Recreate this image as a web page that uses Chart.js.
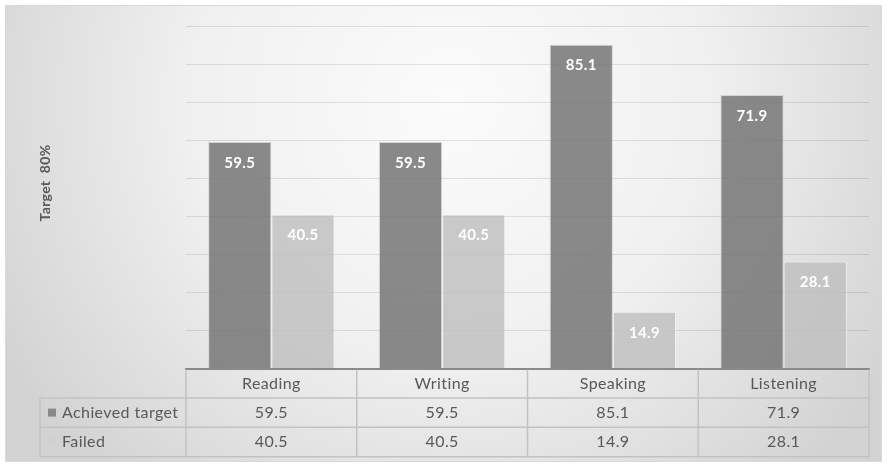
<!DOCTYPE html>
<html>
<head>
<meta charset="utf-8">
<script src="https://cdn.jsdelivr.net/npm/chart.js@4.4.1/dist/chart.umd.min.js"></script>
<style>
  html, body { margin: 0; padding: 0; background: #ffffff; }
  #wrap { width: 887px; height: 467px; position: relative; }
</style>
</head>
<body>
<div id="wrap"><canvas id="c"></canvas></div>
<script>
const categories = ['Reading', 'Writing', 'Speaking', 'Listening'];
const seriesNames = ['Achieved target', 'Failed'];
const achieved = [59.5, 59.5, 85.1, 71.9];
const failed = [40.5, 40.5, 14.9, 28.1];
const yMin = 0;
const yMax = 90;
const yStep = 10;
const axisTitle = 'Target  80%';

const FONT = 'Lato, "Open Sans", "DejaVu Sans", sans-serif';
const TEXT = '#595959';
const barColors = ['rgba(118,118,118,0.85)', 'rgba(190,190,190,0.8)'];
const legendSwatch = ['#8a8a8a', '#d0d0d0'];

const bgPlugin = {
  id: 'bg',
  beforeDraw(chart) {
    const ctx = chart.ctx;
    ctx.save();
    ctx.fillStyle = '#ffffff';
    ctx.fillRect(0, 0, chart.width, chart.height);
    const g = ctx.createRadialGradient(450, 100, 0, 450, 100, 520);
    g.addColorStop(0, '#fbfbfb');
    g.addColorStop(0.5, '#f0f0f0');
    g.addColorStop(1, '#d2d2d2');
    ctx.fillStyle = g;
    ctx.fillRect(5, 5, 877, 457);
    ctx.strokeStyle = '#d9d9d9';
    ctx.lineWidth = 1;
    ctx.strokeRect(5.5, 5.5, 876, 456);
    ctx.restore();
    ctx.letterSpacing = '0.4px';
  }
};

const tablePlugin = {
  id: 'table',
  afterDraw(chart) {
    const ctx = chart.ctx;
    const xs = chart.scales.x;
    const area = chart.chartArea;
    const n = categories.length;
    const colW = (area.right - area.left) / n;
    const top = area.bottom;
    const rowH = 29.4;
    const legendLeft = 40;
    const rows = [achieved, failed];

    ctx.save();
    ctx.letterSpacing = '0.3px';
    // data labels on bars
    ctx.fillStyle = '#ffffff';
    ctx.font = 'bold 15px ' + FONT;
    ctx.textAlign = 'center';
    ctx.textBaseline = 'middle';
    chart.data.datasets.forEach((ds, di) => {
      const meta = chart.getDatasetMeta(di);
      meta.data.forEach((el, i) => {
        ctx.fillText(ds.data[i].toFixed(1), el.x, el.y + 21);
      });
    });

    // table grid
    ctx.strokeStyle = '#c2c2c2';
    ctx.lineWidth = 1.5;
    ctx.beginPath();
    for (let r = 1; r <= 3; r++) {
      const y = top + rowH * r;
      ctx.moveTo(legendLeft, y);
      ctx.lineTo(area.right, y);
    }
    for (let i = 0; i <= n; i++) {
      const xx = i === n ? area.right : xs.getPixelForValue(i) - colW / 2;
      ctx.moveTo(xx, top + 1);
      ctx.lineTo(xx, top + rowH * 3);
    }
    ctx.moveTo(legendLeft, top + rowH);
    ctx.lineTo(legendLeft, top + rowH * 3);
    ctx.stroke();

    // table values
    ctx.letterSpacing = '0.4px';
    ctx.fillStyle = TEXT;
    ctx.font = '16px ' + FONT;
    ctx.textAlign = 'center';
    rows.forEach((vals, r) => {
      const yc = top + rowH * (r + 1) + rowH / 2;
      vals.forEach((v, i) => {
        ctx.fillText(v.toFixed(1), xs.getPixelForValue(i), yc);
      });
    });

    // legend keys
    ctx.textAlign = 'left';
    seriesNames.forEach((name, r) => {
      const yc = top + rowH * (r + 1) + rowH / 2;
      ctx.fillStyle = legendSwatch[r];
      ctx.fillRect(48, yc - 4, 8, 8);
      ctx.fillStyle = TEXT;
      ctx.fillText(name, 62, yc);
    });

    // axis title
    ctx.letterSpacing = '0.3px';
    ctx.translate(45, 183);
    ctx.rotate(-Math.PI / 2);
    ctx.font = 'bold 14px ' + FONT;
    ctx.textAlign = 'center';
    ctx.fillStyle = TEXT;
    ctx.fillText(axisTitle, 0, 0);
    ctx.restore();
  }
};

new Chart(document.getElementById('c'), {
  type: 'bar',
  data: {
    labels: categories,
    datasets: [
      { label: seriesNames[0], data: achieved, backgroundColor: barColors[0],
        borderColor: 'rgba(200,200,200,0.7)', borderWidth: 1 },
      { label: seriesNames[1], data: failed, backgroundColor: barColors[1],
        borderColor: 'rgba(245,245,245,0.8)', borderWidth: 1 }
    ]
  },
  options: {
    responsive: true,
    maintainAspectRatio: false,
    animation: false,
    layout: { padding: { top: 26, right: 18, bottom: 69, left: 0 } },
    datasets: { bar: { categoryPercentage: 0.74, barPercentage: 1.0 } },
    plugins: {
      legend: { display: false },
      tooltip: { enabled: false }
    },
    scales: {
      x: {
        z: 1,
        afterFit(scale) { scale.height = 29.5; },
        grid: { display: false, drawTicks: false },
        border: { display: true, color: '#8a8a8a', width: 2 },
        ticks: { color: TEXT, font: { family: FONT, size: 16 }, padding: 6 }
      },
      y: {
        z: 1,
        min: yMin,
        max: yMax,
        afterFit(scale) { scale.width = 186; },
        ticks: { display: false, stepSize: yStep },
        grid: { color: 'rgba(0,0,0,0.1)', lineWidth: 1, drawTicks: false },
        border: { display: false }
      }
    }
  },
  plugins: [bgPlugin, tablePlugin]
});
</script>
</body>
</html>
